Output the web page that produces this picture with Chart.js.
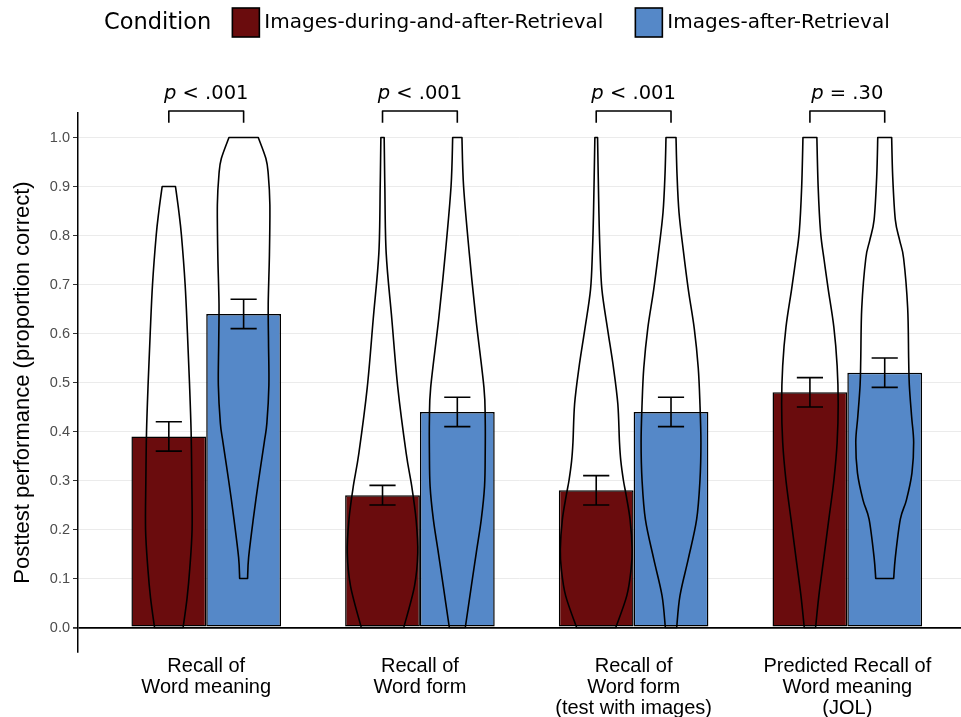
<!DOCTYPE html>
<html><head><meta charset="utf-8">
<script src="https://cdn.jsdelivr.net/npm/chart.js@4.4.1/dist/chart.umd.min.js"></script>
<style>html,body{margin:0;padding:0;background:#fff}</style>
</head><body>
<canvas id="c" width="961" height="717"></canvas>
<script>
// ---------- data ----------
const categories = [
  ["Recall of", "Word meaning"],
  ["Recall of", "Word form"],
  ["Recall of", "Word form", "(test with images)"],
  ["Predicted Recall of", "Word meaning", "(JOL)"]
];
const legendTitle = "Condition";
const seriesNames = ["Images-during-and-after-Retrieval", "Images-after-Retrieval"];
const duringAfterMeans = [0.39, 0.27, 0.28, 0.48];
const afterMeans = [0.64, 0.44, 0.44, 0.52];
const duringAfterLow = [0.36, 0.25, 0.25, 0.45];
const duringAfterHigh = [0.42, 0.29, 0.31, 0.51];
const afterLow = [0.61, 0.41, 0.41, 0.49];
const afterHigh = [0.67, 0.47, 0.47, 0.55];
const pSymbol = "p";
const pLabels = [" < .001", " < .001", " < .001", " = .30"];
const yTickValues = [0, 0.1, 0.2, 0.3, 0.4, 0.5, 0.6, 0.7, 0.8, 0.9, 1.0];
const yTickLabels = ["0.0", "0.1", "0.2", "0.3", "0.4", "0.5", "0.6", "0.7", "0.8", "0.9", "1.0"];
const yTitle = "Posttest performance (proportion correct)";
// violin density profiles: [value, half-width as fraction of bar width]
const duringAfterViolins = [
  [[0,.191],[0.06,.244],[0.12,.28],[0.2,.311],[0.3,.307],[0.4,.298],[0.5,.276],[0.6,.249],[0.7,.218],[0.8,.169],[0.85,.133],[0.9,.089]],
  [[0,.284],[0.084,.427],[0.152,.471],[0.22,.449],[0.288,.391],[0.356,.316],[0.49,.204],[0.63,.124],[0.764,.049],[0.9,.031],[1.0,.022]],
  [[0,.262],[0.065,.409],[0.12,.467],[0.16,.48],[0.22,.453],[0.27,.4],[0.30,.364],[0.34,.329],[0.378,.311],[0.456,.289],[0.53,.231],[0.61,.151],[0.69,.076],[0.77,.05],[0.847,.036],[1.0,.018]],
  [[0,.076],[0.065,.12],[0.143,.187],[0.221,.253],[0.30,.32],[0.378,.364],[0.456,.378],[0.534,.364],[0.613,.32],[0.691,.244],[0.75,.19],[0.808,.142],[0.9,.11],[1.0,.093]]
];
const afterViolins = [
  [[0.1,.053],[0.143,.067],[0.221,.129],[0.3,.2],[0.378,.276],[0.417,.311],[0.495,.338],[0.58,.333],[0.66,.329],[0.76,.345],[0.863,.351],[0.926,.329],[0.957,.298],[1.0,.196]],
  [[0,.107],[0.084,.187],[0.152,.253],[0.22,.32],[0.288,.364],[0.356,.373],[0.424,.373],[0.49,.356],[0.63,.249],[0.764,.16],[0.9,.084],[1.0,.062]],
  [[0,.076],[0.065,.12],[0.14,.231],[0.22,.342],[0.30,.387],[0.378,.4],[0.456,.387],[0.53,.364],[0.61,.311],[0.69,.231],[0.77,.164],[0.847,.107],[0.926,.08],[1.0,.067]],
  [[0.1,.12],[0.143,.142],[0.221,.209],[0.26,.29],[0.315,.364],[0.378,.387],[0.43,.36],[0.495,.329],[0.55,.32],[0.652,.307],[0.753,.253],[0.79,.2],[0.832,.142],[0.92,.107],[1.0,.093]]
];

// ---------- style ----------
const RED = '#6a0c0d', BLUE = '#5588c8';
const LEGEND_FONT = "'DejaVu Sans'";

function smooth(ctx, pts) {
  for (let i = 0; i < pts.length - 1; i++) {
    const p0 = pts[Math.max(i - 1, 0)], p1 = pts[i], p2 = pts[i + 1], p3 = pts[Math.min(i + 2, pts.length - 1)];
    ctx.bezierCurveTo(p1.x + (p2.x - p0.x) / 6, p1.y + (p2.y - p0.y) / 6,
                      p2.x - (p3.x - p1.x) / 6, p2.y - (p3.y - p1.y) / 6, p2.x, p2.y);
  }
}

const overlay = {
  id: 'overlay',
  afterDatasetsDraw(chart) {
    const { ctx, scales: { y } } = chart;
    ctx.save();
    ctx.strokeStyle = '#000';
    ctx.lineJoin = 'round';
    // violins
    ctx.lineWidth = 1.6;
    [duringAfterViolins, afterViolins].forEach((vs, d) => {
      chart.getDatasetMeta(d).data.forEach((bar, i) => {
        const prof = vs[i].slice().sort((a, b) => a[0] - b[0]);
        const cx = bar.x, w = bar.width;
        const right = prof.map(([v, h]) => ({ x: cx + h * w, y: y.getPixelForValue(v) }));
        const left = prof.slice().reverse().map(([v, h]) => ({ x: cx - h * w, y: y.getPixelForValue(v) }));
        ctx.beginPath();
        ctx.moveTo(left[left.length - 1].x, left[left.length - 1].y);
        ctx.lineTo(right[0].x, right[0].y);
        smooth(ctx, right);
        ctx.lineTo(left[0].x, left[0].y);
        smooth(ctx, left);
        ctx.closePath();
        ctx.stroke();
      });
    });
    // error bars
    ctx.lineWidth = 1.6;
    [[duringAfterLow, duringAfterHigh], [afterLow, afterHigh]].forEach(([lo, hi], d) => {
      chart.getDatasetMeta(d).data.forEach((bar, i) => {
        const cw = bar.width * 0.175;
        const yl = y.getPixelForValue(lo[i]), yh = y.getPixelForValue(hi[i]);
        ctx.beginPath();
        ctx.moveTo(bar.x, yl); ctx.lineTo(bar.x, yh);
        ctx.moveTo(bar.x - cw, yl); ctx.lineTo(bar.x + cw, yl);
        ctx.moveTo(bar.x - cw, yh); ctx.lineTo(bar.x + cw, yh);
        ctx.stroke();
      });
    });
    // significance brackets
    const m0 = chart.getDatasetMeta(0).data, m1 = chart.getDatasetMeta(1).data;
    const by = y.getPixelForValue(1.054), bt = y.getPixelForValue(1.03), ty = y.getPixelForValue(1.078);
    categories.forEach((c, i) => {
      const xl = m0[i].x, xr = m1[i].x;
      ctx.beginPath();
      ctx.moveTo(xl, bt); ctx.lineTo(xl, by); ctx.lineTo(xr, by); ctx.lineTo(xr, bt);
      ctx.stroke();
      ctx.fillStyle = '#000';
      ctx.textBaseline = 'alphabetic';
      ctx.textAlign = 'left';
      ctx.font = "italic 19.5px " + LEGEND_FONT;
      const w1 = ctx.measureText(pSymbol).width;
      ctx.font = "19.5px " + LEGEND_FONT;
      const w2 = ctx.measureText(pLabels[i]).width;
      const x0 = (xl + xr) / 2 - (w1 + w2) / 2;
      ctx.font = "italic 19.5px " + LEGEND_FONT;
      ctx.fillText(pSymbol, x0, ty);
      ctx.font = "19.5px " + LEGEND_FONT;
      ctx.fillText(pLabels[i], x0 + w1, ty);
    });
    ctx.restore();
  },
  afterDraw(chart) {
    const ctx = chart.ctx;
    ctx.save();
    ctx.textBaseline = 'middle';
    ctx.textAlign = 'left';
    ctx.fillStyle = '#000';
    const cy = 23;
    let x = 104;
    ctx.font = "22.5px " + LEGEND_FONT;
    ctx.fillText(legendTitle, x, cy);
    x += ctx.measureText(legendTitle).width + 21;
    ctx.font = "20px " + LEGEND_FONT;
    chart.data.datasets.forEach((ds, d) => {
      ctx.fillStyle = ds.backgroundColor;
      ctx.fillRect(x, 8, 27, 29);
      ctx.strokeStyle = '#000';
      ctx.lineWidth = 1.6;
      ctx.strokeRect(x, 8, 27, 29);
      ctx.fillStyle = '#000';
      ctx.fillText(ds.label, x + 32, cy);
      x += 32 + ctx.measureText(ds.label).width + 32;
    });
    ctx.restore();
  }
};

new Chart(document.getElementById('c'), {
  type: 'bar',
  data: {
    datasets: [
      { label: seriesNames[0], data: duringAfterMeans.map((v, i) => ({ x: i + 1, y: v })),
        backgroundColor: RED, borderColor: '#000', borderWidth: 1.5, borderSkipped: false,
        categoryPercentage: 0.7, barPercentage: 1 },
      { label: seriesNames[1], data: afterMeans.map((v, i) => ({ x: i + 1, y: v })),
        backgroundColor: BLUE, borderColor: '#000', borderWidth: 1.5, borderSkipped: false,
        categoryPercentage: 0.7, barPercentage: 1 }
    ]
  },
  options: {
    responsive: false, animation: false,
    layout: { padding: { top: 113, right: 0, bottom: 0, left: 0 } },
    plugins: { legend: { display: false }, tooltip: { enabled: false } },
    scales: {
      x: {
        type: 'linear', min: 0.4, max: 4.532, offset: false, bounds: 'data',
        grid: { display: false, drawTicks: false, offset: false },
        border: { display: false },
        afterBuildTicks: s => { s.ticks = categories.map((c, i) => ({ value: i + 1 })); },
        afterFit: s => { s.height = 65; },
        ticks: {
          autoSkip: false, maxRotation: 0, minRotation: 0, padding: 4, color: '#000',
          font: { family: 'Liberation Sans', size: 20, lineHeight: 1.05 },
          callback: v => categories[Math.round(v) - 1]
        }
      },
      y: {
        min: -0.05, max: 1.05,
        afterBuildTicks: s => { s.ticks = yTickValues.map(v => ({ value: v })); },
        afterFit: s => { s.width = 78; },
        grid: {
          color: c => (c.tick && c.tick.value === 0) ? '#000' : '#ebebeb',
          lineWidth: c => (c.tick && c.tick.value === 0) ? 1.8 : 1,
          tickColor: '#333', tickLength: 5, drawTicks: true
        },
        border: { display: true, color: '#000', width: 1.5 },
        ticks: {
          padding: 3, color: '#4d4d4d',
          font: { family: 'Liberation Sans', size: 14.5 },
          callback: (v, i) => yTickLabels[i]
        },
        title: {
          display: true, text: yTitle, color: '#000',
          font: { family: 'Liberation Sans', size: 22 },
          padding: { top: 10, bottom: 0 }
        }
      }
    }
  },
  plugins: [overlay]
});
</script>
</body></html>
